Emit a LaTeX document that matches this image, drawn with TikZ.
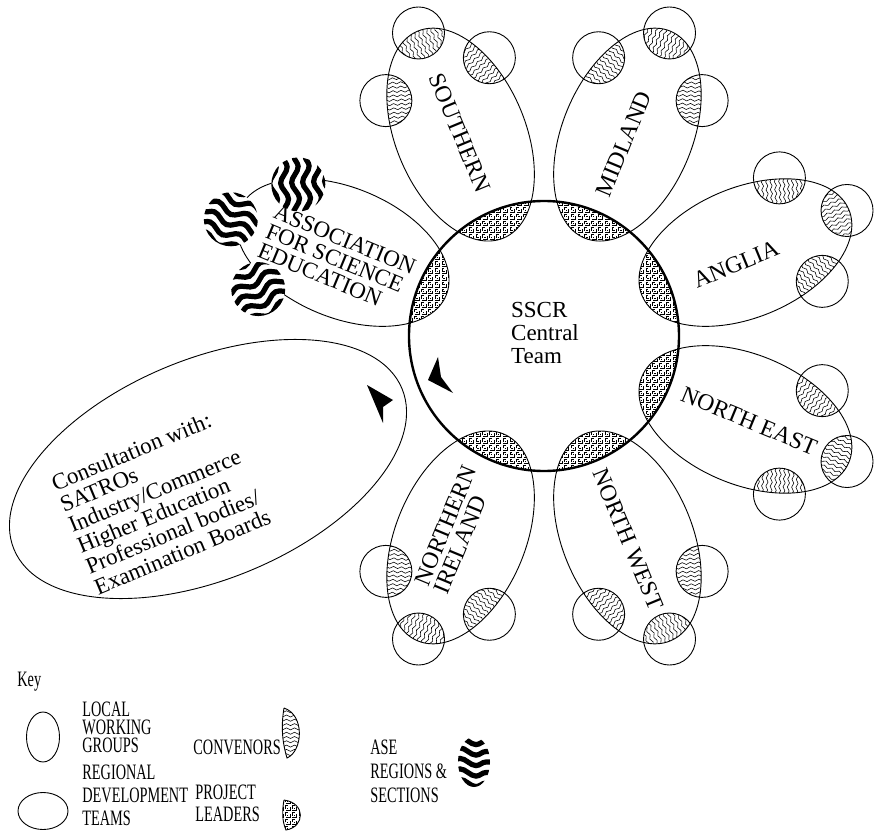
\documentclass[tikz,border=0pt]{standalone}
\usepackage{fontspec}
\setmainfont{Liberation Serif}
\newfontfamily\keyfont[FakeStretch=0.65]{Liberation Serif}
\usetikzlibrary{patterns,decorations.pathmorphing,calc}

% dense maze-like fill for the project leaders
\pgfdeclarepatternformonly{maze}{\pgfqpoint{-.5pt}{-.5pt}}{\pgfqpoint{4pt}{4pt}}{\pgfqpoint{3.4pt}{3.4pt}}{
  \pgfsetlinewidth{0.35pt}
  \pgfpathmoveto{\pgfqpoint{0pt}{0pt}}
  \pgfpathlineto{\pgfqpoint{2.2pt}{0pt}}
  \pgfpathlineto{\pgfqpoint{2.2pt}{1.6pt}}
  \pgfpathmoveto{\pgfqpoint{0.7pt}{1.1pt}}
  \pgfpathlineto{\pgfqpoint{1.4pt}{1.1pt}}
  \pgfpathmoveto{\pgfqpoint{0pt}{0.9pt}}
  \pgfpathlineto{\pgfqpoint{0pt}{2.4pt}}
  \pgfpathlineto{\pgfqpoint{1.2pt}{2.4pt}}
  \pgfusepath{stroke}}

\tikzset{
  petal/.style={line width=0.45pt},
  hub/.style={line width=1.2pt},
  lwg/.style={line width=0.45pt},
  lead/.style={pattern=maze},
  conv/.style={line width=0.28pt, decorate,
    decoration={snake, amplitude=0.5pt, segment length=4pt}},
  asewave/.style={line width=2.6pt, decorate,
    decoration={snake, amplitude=1.8pt, segment length=16pt}},
  lbl/.style={font=\fontsize{11.8}{10.5}\selectfont, inner sep=0pt},
  keytxt/.style={font={\keyfont\fontsize{11}{9}\selectfont}, inner sep=0pt,
    align=left, anchor=north west}
}

% one regional petal, #1 = its direction from the hub
\newcommand{\petal}[1]{%
  \begin{scope}[shift={(544,495)}, rotate=#1]
    \draw[petal] (218,0) ellipse [x radius=112, y radius=65];
    \begin{scope}
      \clip (0,0) circle (135);
      \fill[lead] (218,0) ellipse [x radius=112, y radius=65];
    \end{scope}
    \foreach \cx/\cy/\ca in {278/56/70, 328/0/0, 278/-56/-70}{
      \begin{scope}
        \clip (\cx,\cy) circle (26);
        \clip (218,0) ellipse [x radius=112, y radius=65];
        \begin{scope}[shift={(\cx,\cy)}, rotate=\ca]
          \foreach \k in {-7,...,7} \draw[conv] (-30,\k*4.3) -- (30,\k*4.3);
        \end{scope}
      \end{scope}
      \draw[lwg] (\cx,\cy) circle (26);
    }
  \end{scope}}

% the ASE petal with its striped regions
\newcommand{\asepetal}[1]{%
  \begin{scope}[shift={(544,495)}, rotate=#1]
    \draw[petal] (218,0) ellipse [x radius=112, y radius=65];
    \begin{scope}
      \clip (0,0) circle (135);
      \fill[lead] (218,0) ellipse [x radius=112, y radius=65];
    \end{scope}
    \foreach \cx/\cy/\ca in {282/66/50, 334/12/0, 285/-46/-65}{
      \begin{scope}
        \clip (\cx,\cy) circle (27);
        \fill[white] (\cx,\cy) circle (27);
        \begin{scope}[shift={(\cx,\cy)}, rotate=\ca]
          \foreach \k in {-3,...,3} \draw[asewave] (-40,\k*11+3) -- (40,\k*11+3);
        \end{scope}
      \end{scope}
    }
  \end{scope}}

\begin{document}
\begin{tikzpicture}[x=0.5pt, y=0.5pt]
\useasboundingbox (0,0) rectangle (877,831);
\coordinate (hub) at (544,495);

% consultation
\draw[petal, rotate around={22.5:(208,362)}] (208,362) ellipse [x radius=210, y radius=110];
\node[lbl, rotate=22.5, align=left, font=\fontsize{11.5}{11.2}\selectfont] (consult) at (161,331)
  {Consultation with:\\SATROs\\Industry/Commerce\\Higher Education\\Professional bodies/\\Examination Boards};

% regions
\petal{112.5}
\petal{67.5}
\petal{22.5}
\petal{-22.5}
\petal{-67.5}
\petal{-112.5}
\asepetal{157.5}

% central team
\draw[hub] (hub) circle (135);
\node[lbl, align=left, font=\fontsize{11.5}{11.5}\selectfont] (sscr) at (545,498) {SSCR\\Central\\Team};

\node[lbl, rotate=-67.5] (southern) at ($(hub)+(112.5:220)$) {SOUTHERN};
\node[lbl, rotate=67.5] (midland) at ($(hub)+(67.5:208)$) {MIDLAND};
\node[lbl, rotate=22.5] (anglia) at ($(hub)+(20.5:205)$) {ANGLIA};
\node[lbl, rotate=-22.5] (neast) at ($(hub)+(-22.5:222)$) {NORTH EAST};
\node[lbl, rotate=-67.5] (nwest) at ($(hub)+(-67.5:220)$) {NORTH WEST};
\node[lbl, rotate=67.5, align=left] (nireland) at ($(hub)+(245.3:213)$) {NORTHERN\\IRELAND};
\node[lbl, rotate=-22.5, align=left, font=\fontsize{11.5}{10.5}\selectfont] (ase) at ($(hub)+(159.6:221)$) {ASSOCIATION\\FOR SCIENCE\\EDUCATION};

% arrowheads
\fill (428,451) -- (438,474) -- (441,454) -- (453,438) -- cycle;
\fill (367,446) -- (393,431) -- (383,424) -- (383,408) -- cycle;

% key
\node[keytxt] (key) at (17,159) {Key};
\draw[lwg] (43,94) ellipse [x radius=16.5, y radius=25];
\node[keytxt] (lwgtxt) at (82,129) {LOCAL\\WORKING\\GROUPS};
\draw[petal] (43,20) ellipse [x radius=25, y radius=18.5];
\node[keytxt, font={\keyfont\fontsize{11}{11.5}\selectfont}] (rdttxt) at (82,66) {REGIONAL\\DEVELOPMENT\\TEAMS};
\node[keytxt] (convtxt) at (193,91) {CONVENORS};
\begin{scope}
  \clip (284,123) .. controls (281,105) and (282,90) .. (287,73) .. controls (303,80) and (305,116) .. (284,123);
  \foreach \k in {0,...,12} \draw[conv] (276,72+\k*4.3) -- (308,72+\k*4.3);
\end{scope}
\draw[lwg] (284,123) .. controls (281,105) and (282,90) .. (287,73) .. controls (303,80) and (305,116) .. (284,123);
\node[keytxt, font={\keyfont\fontsize{11}{11}\selectfont}] (pltxt) at (195,46) {PROJECT\\LEADERS};
\fill[lead] (284,31) .. controls (282,20) and (282,10) .. (286,1) .. controls (305,4) and (306,28) .. (284,31);
\draw[lwg] (284,31) .. controls (282,20) and (282,10) .. (286,1) .. controls (305,4) and (306,28) .. (284,31);
\node[keytxt, font={\keyfont\fontsize{11}{12}\selectfont}] (asetxt) at (370,91) {ASE\\REGIONS \&\\SECTIONS};
\begin{scope}
  \clip (474,69) ellipse [x radius=16, y radius=25];
  \foreach \k in {-2,...,2} \draw[asewave] (450,69+\k*10.5) -- (498,69+\k*10.5);
\end{scope}
\end{tikzpicture}
\end{document}
